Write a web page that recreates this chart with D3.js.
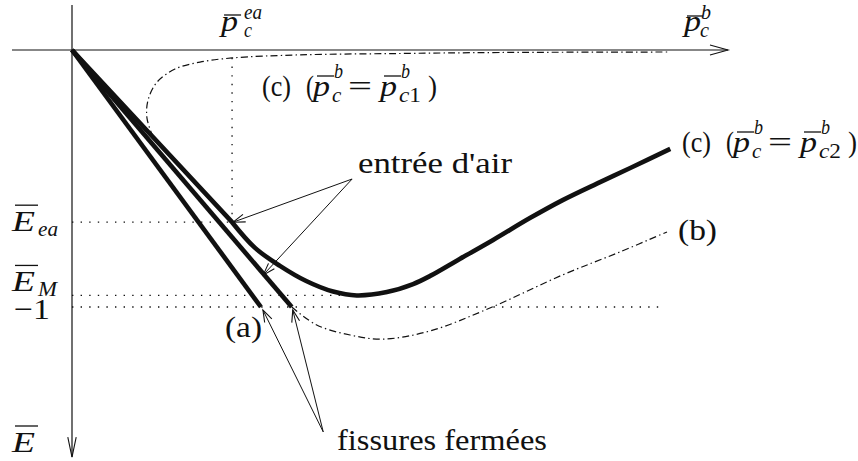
<!DOCTYPE html>
<html>
<head>
<meta charset="utf-8">
<script src="https://cdn.jsdelivr.net/npm/d3@7"></script>
<style>
  html, body { margin: 0; padding: 0; background: #fff; }
  svg { display: block; }
  text { font-family: 'Liberation Serif', 'DejaVu Serif', serif; fill: #111; }
</style>
</head>
<body>
<svg id="chart" width="858" height="461"></svg>
<script>
// ---- characteristic values (p̄c horizontal, Ē vertical, downward) ----
const P_EA = 2.44;     // p̄c at air entry
const E_EA = -0.67;    // Ē at air entry
const E_M = -0.955;    // minimum of curve (c2)
const E_REF = -1;      // reference level −1
const X_AXIS = [-0.915, 10];
const E_AXIS = [0.175, -1.584];

// ---- curves: [p̄c, Ē] ----
const curveA = [[0, 0], [2.88, -1]];
const curveBThick = [[0, 0], [3.35, -1]];
const curveBDash = [[3.35, -1], [3.73, -1.07], [4.24, -1.109], [4.74, -1.125], [5.46, -1.093],
                    [6.37, -1.004], [7.48, -0.875], [8.35, -0.786], [9.07, -0.708]];
const curveC2 = [[0, 0], [2.44, -0.67], [2.79, -0.770], [3.17, -0.840], [3.57, -0.899],
                 [3.98, -0.940], [4.34, -0.955], [4.80, -0.942], [5.20, -0.911], [5.46, -0.879],
                 [5.91, -0.813], [6.42, -0.739], [6.98, -0.654], [7.48, -0.584], [8.05, -0.514],
                 [8.51, -0.459], [9.12, -0.385]];
const curveC1 = [[1.235, -0.339], [1.143, -0.265], [1.159, -0.195], [1.296, -0.125], [1.57, -0.074],
                 [1.951, -0.047], [2.439, -0.031], [3.476, -0.019], [5.0, -0.0136], [6.52, -0.0097],
                 [9.085, -0.0078]];

// ---- guide lines ----
const guideEa = [[0, E_EA], [P_EA, E_EA]];
const guideEaVert = [[P_EA, -0.031], [P_EA, E_EA]];
const guideM = [[0, E_M], [4.34, E_M]];
const guideRef = [[0, E_REF], [9.0, E_REF]];

// ---- annotations: arrow tail and the points they designate ----
const airEntryTail = [4.27, -0.502];
const airEntryPoints = [[2.44, -0.67], [2.931, -0.875]];
const closedCrackTail = [3.83, -1.486];
const closedCrackPoints = [[2.88, -1], [3.35, -1]];

// ---- text ----
const airEntryText = "entrée d'air";
const closedCrackText = "fissures fermées";
const curveNames = ["(a)", "(b)", "(c)"];

const svg = d3.select("#chart");
const x = d3.scaleLinear().domain([0, 10]).range([72, 728]);
const y = d3.scaleLinear().domain([0, -1]).range([50, 307]);
const INK = "#111";

const straight = d3.line().x(d => x(d[0])).y(d => y(d[1]));
const smooth = d3.line().x(d => x(d[0])).y(d => y(d[1])).curve(d3.curveCatmullRom.alpha(0.5));

function path(d, w, dash) {
  const p = svg.append("path").attr("d", d).attr("fill", "none")
    .attr("stroke", INK).attr("stroke-width", w)
    .attr("stroke-linejoin", "round").attr("stroke-linecap", "butt");
  if (dash) p.attr("stroke-dasharray", dash);
  return p;
}

const DOTS = "1.4,7.2";
const DASHDOT = "7,3.2,1.4,3.2";

// guides (dotted)
[guideEa, guideEaVert, guideM, guideRef].forEach(g => path(straight(g), 1.3, DOTS));

// axes
path(straight([[X_AXIS[0], 0], [X_AXIS[1], 0]]), 1.2);
path(straight([[0, E_AXIS[0]], [0, E_AXIS[1]]]), 1.2);
function openHead(tx, ty, fx, fy, len, half) {
  const a = Math.atan2(ty - fy, tx - fx);
  const ux = Math.cos(a), uy = Math.sin(a);
  const bx = tx - ux * len, by = ty - uy * len;
  const px = -uy * half, py = ux * half;
  svg.append("path")
    .attr("d", `M${bx + px},${by + py}L${tx},${ty}L${bx - px},${by - py}`)
    .attr("fill", "none").attr("stroke", INK).attr("stroke-width", 1.1)
    .attr("stroke-linejoin", "miter");
}
openHead(x(X_AXIS[1]), y(0), x(0), y(0), 18, 5);
openHead(x(0), y(E_AXIS[1]), x(0), y(0), 20, 4.2);

// dash-dot branches
path(smooth(curveC1), 1.2, DASHDOT);
path(smooth(curveBDash), 1.2, DASHDOT);

// thick branches
const THICK = 4.6;
path(straight(curveA), THICK);
path(straight(curveBThick), THICK);
const c2Path = straight(curveC2.slice(0, 2)) +
  smooth(curveC2.slice(1)).replace(/^M[^A-Za-z]*/, "");
path(c2Path, THICK);

// annotation arrows
function arrow(tail, tip, dx, dy) {
  const tx = x(tip[0]) + dx, ty = y(tip[1]) + dy;
  const fx = x(tail[0]), fy = y(tail[1]);
  svg.append("line").attr("x1", fx).attr("y1", fy).attr("x2", tx).attr("y2", ty)
    .attr("stroke", INK).attr("stroke-width", 1);
  openHead(tx, ty, fx, fy, 12, 4);
}
arrow(airEntryTail, airEntryPoints[0], 1, 0);
arrow(airEntryTail, airEntryPoints[1], -1, 0);
arrow(closedCrackTail, closedCrackPoints[0], 2, 3);
arrow(closedCrackTail, closedCrackPoints[1], 1, 3);

// ---- text helpers ----
function txt(px, py, s, o = {}) {
  const t = svg.append("text").attr("x", px).attr("y", py).text(s)
    .attr("font-family", "'Liberation Serif', 'DejaVu Serif', serif")
    .style("font-size", (o.size || 30) + "px");
  if (o.italic) t.style("font-style", "italic");
  if (o.len) t.attr("textLength", o.len).attr("lengthAdjust", "spacingAndGlyphs");
  return t;
}
function bar(x1, x2, yy) {
  svg.append("line").attr("x1", x1).attr("x2", x2).attr("y1", yy).attr("y2", yy)
    .attr("stroke", INK).attr("stroke-width", 1.3);
}
// overlined p with superscript and subscript (sub: italic letter + upright digit)
function pBar(px, base, sup, subLetter, subDigit) {
  txt(px, base, "p", { italic: true, len: 17 });
  bar(px + 4, px + 21, base - 20);
  txt(px + 21, base - 18, sup, { italic: true, size: 21, len: 9 });
  const s = svg.append("text").attr("x", px + 19).attr("y", base + 6)
    .attr("font-family", "'Liberation Serif', 'DejaVu Serif', serif")
    .style("font-size", "21px");
  s.append("tspan").text(subLetter).style("font-style", "italic");
  if (subDigit) s.append("tspan").text(subDigit);
  if (subDigit) s.attr("textLength", 22).attr("lengthAdjust", "spacingAndGlyphs");
}

// horizontal axis labels
txt(x(P_EA) - 11, 31, "p", { italic: true, len: 17 });
bar(x(P_EA) - 8, x(P_EA) + 9, 15);
txt(x(P_EA) + 12, 19, "ea", { italic: true, size: 21, len: 18 });
txt(x(P_EA) + 12, 37, "c", { italic: true, size: 21, len: 8 });

txt(684, 31, "p", { italic: true, len: 17 });
bar(687, 703, 16);
txt(701, 19, "b", { italic: true, size: 21, len: 10 });
txt(700, 37, "c", { italic: true, size: 21, len: 9 });

// vertical axis labels
function eLabel(base, sub) {
  txt(12, base, "E", { italic: true, len: 23 });
  bar(15, 38, base - 26);
  if (sub) txt(38, base + 5, sub, { italic: true, size: 21, len: sub.length > 1 ? 20 : 19 });
}
eLabel(y(E_EA) + 9, "ea");
eLabel(y(E_M) - 4, "M");
txt(14, y(E_REF) + 12, "−1", { len: 36 });
eLabel(452, null);

// curve (c) labels
function cLabel(x0, base, digit) {
  txt(x0, base, curveNames[2], { len: 29 });
  txt(x0 + 44, base, "(", { len: 8 });
  pBar(x0 + 51, base, "b", "c", "");
  txt(x0 + 86, base, "=", { len: 24 });
  pBar(x0 + 118, base, "b", "c", digit);
  txt(x0 + 166, base, ")", { len: 9 });
}
cLabel(262, 96, "1");
cLabel(682, 152, "2");

txt(225, 337, curveNames[0], { len: 37 });
txt(678, 240, curveNames[1], { len: 39 });
txt(358, 173, airEntryText, { len: 154 });
txt(337, 450, closedCrackText, { len: 210 });
</script>
</body>
</html>
